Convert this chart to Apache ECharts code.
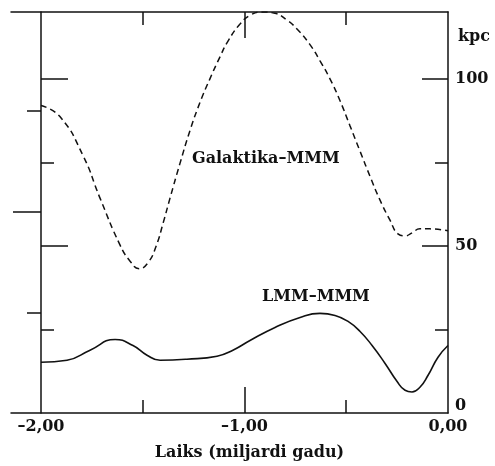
<!DOCTYPE html>
<html>
<head>
<meta charset="utf-8">
<script src="https://cdn.jsdelivr.net/npm/echarts@6/dist/echarts.min.js"></script>
<style>
  html, body { margin: 0; padding: 0; background: #fff; }
  #chart { width: 495px; height: 466px; }
</style>
</head>
<body>
<div id="chart"></div>
<script>
// Galaktika–MMM distance (dashed), kpc vs. time in Gyr
const galaxyTime = [-2.0, -1.907, -1.794, -1.71, -1.612, -1.563, -1.518, -1.474, -1.434, -1.4, -1.366, -1.317, -1.268, -1.219, -1.17, -1.121, -1.081, -1.022, -0.973, -0.914, -0.851, -0.792, -0.742, -0.68, -0.629, -0.58, -0.531, -0.482, -0.432, -0.383, -0.334, -0.285, -0.246, -0.211, -0.177, -0.138, -0.088, 0.0]
const galaxyDist = [92.0, 88.7, 77.1, 64.3, 50.3, 45.5, 43.2, 45.0, 50.0, 56.8, 64.3, 74.7, 84.5, 92.9, 100.0, 106.5, 111.3, 116.4, 119.0, 120.0, 119.6, 117.6, 114.9, 110.4, 105.4, 100.0, 93.5, 86.0, 78.3, 70.8, 63.7, 57.7, 53.6, 53.0, 53.9, 55.1, 55.1, 54.5]

// LMM–MMM distance (solid)
const lmcTime = [-2.0, -1.872, -1.759, -1.636, -1.548, -1.479, -1.415, -1.283, -1.135, -1.057, -0.973, -0.85, -0.727, -0.629, -0.555, -0.491, -0.432, -0.373, -0.31, -0.251, -0.211, -0.177, -0.138, -0.098, -0.049, 0.0]
const lmcDist = [15.2, 15.8, 18.8, 22.0, 20.2, 17.3, 15.8, 16.1, 17.0, 18.8, 21.7, 25.6, 28.6, 29.8, 29.2, 27.4, 24.4, 20.2, 14.9, 9.5, 6.8, 6.3, 7.7, 11.3, 16.7, 20.2]

const xLabels = [-2, -1, 0]
const xLongTicks = [-1]
const xShortTicks = [-1.5, -0.5]
const kpcLabels = [0, 50, 100]
const kpcLongTicks = [50, 100]
const kpcShortTicks = [25, 75]
// left outer ticks: 100 000 light-year steps, in kpc
const lyShortTicks = [30.1, 90.3]
const lyLongTicks = [60.2]

const FONT = '"DejaVu Serif", "Liberation Serif", serif'
const line = { show: true, onZero: false, lineStyle: { color: '#111', width: 1.5 } }
const noLine = { show: false, onZero: false }
const tickStyle = { color: '#111', width: 1.5 }

function xAx(pos, ticks, len, showLine) {
  return {
    type: 'value', position: pos, min: -2.1474, max: 0,
    axisLine: showLine ? line : noLine,
    axisTick: { show: true, inside: true, length: len, customValues: ticks, lineStyle: tickStyle },
    axisLabel: { show: false },
    splitLine: { show: false }
  }
}

function yAx(pos, offset, ticks, len, inside, showLine) {
  return {
    type: 'value', position: pos, offset: offset, min: 0, max: 120,
    axisLine: showLine ? line : noLine,
    axisTick: { show: true, inside: inside, length: len, customValues: ticks, lineStyle: tickStyle },
    axisLabel: { show: false },
    splitLine: { show: false }
  }
}

const fmtTime = (v) => (v < 0 ? '–' : '') + Math.abs(v).toFixed(2).replace('.', ',')

const bottomMain = xAx('bottom', xLongTicks, 26, true)
bottomMain.axisLabel = {
  show: true, customValues: xLabels, formatter: fmtTime, margin: 6,
  color: '#111', fontFamily: FONT, fontWeight: 'bold', fontSize: 16
}
bottomMain.name = 'Laiks (miljardi gadu)'
bottomMain.nameLocation = 'middle'
bottomMain.nameGap = 32
bottomMain.nameTextStyle = { color: '#111', fontFamily: FONT, fontWeight: 'bold', fontSize: 16, padding: [0, 0, 0, 40] }

const rightMain = yAx('right', 0, kpcLongTicks, 26, true, true)
rightMain.axisLabel = {
  show: true, customValues: kpcLabels, margin: 7,
  color: '#111', fontFamily: FONT, fontWeight: 'bold', fontSize: 16,
  formatter: (v) => (v === 0 ? '{z|0}' : String(v)),
  rich: { z: { fontFamily: FONT, fontWeight: 'bold', fontSize: 16, color: '#111', padding: [0, 0, 14, 0] } }
}
rightMain.name = 'kpc'
rightMain.nameLocation = 'end'
rightMain.nameGap = -25
rightMain.nameTextStyle = { color: '#111', fontFamily: FONT, fontWeight: 'bold', fontSize: 16, align: 'left', verticalAlign: 'middle', padding: [0, 0, 0, 10] }

const chart = echarts.init(document.getElementById('chart'))

chart.setOption({
  animation: false,
  backgroundColor: '#fff',
  grid: { left: 11, right: 47, top: 12, bottom: 50 },
  xAxis: [
    bottomMain,
    xAx('bottom', xShortTicks, 13, false),
    xAx('top', xLongTicks, 26, true),
    xAx('top', xShortTicks, 13, false)
  ],
  yAxis: [
    rightMain,
    yAx('right', 0, kpcShortTicks, 13, true, false),
    yAx('left', -30, kpcLongTicks, 27, true, true),
    yAx('left', -30, kpcShortTicks, 13, true, false),
    yAx('left', -30, lyShortTicks, 14, false, false),
    yAx('left', -30, lyLongTicks, 28, false, false)
  ],
  graphic: [
    { type: 'text', left: 192, top: 151, style: { text: 'Galaktika–MMM', font: 'bold 16px ' + FONT, fill: '#111' } },
    { type: 'text', left: 262, top: 289, style: { text: 'LMM–MMM', font: 'bold 16px ' + FONT, fill: '#111' } }
  ],
  series: [
    {
      name: 'Galaktika–MMM',
      type: 'line',
      smooth: true,
      showSymbol: false,
      lineStyle: { color: '#111', width: 1.5, type: [6, 4] },
      data: galaxyTime.map((t, i) => [t, galaxyDist[i]])
    },
    {
      name: 'LMM–MMM',
      type: 'line',
      smooth: true,
      showSymbol: false,
      lineStyle: { color: '#111', width: 1.6 },
      data: lmcTime.map((t, i) => [t, lmcDist[i]])
    }
  ]
})
</script>
</body>
</html>
